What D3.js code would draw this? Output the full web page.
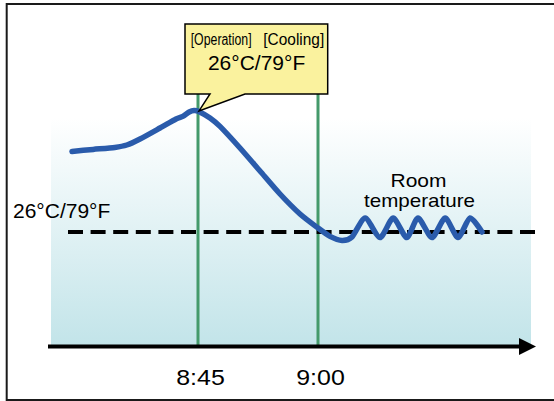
<!DOCTYPE html>
<html>
<head>
<meta charset="utf-8">
<script src="https://cdn.jsdelivr.net/npm/d3@7"></script>
<style>
  html, body { margin: 0; padding: 0; background: #fff; }
  svg { display: block; font-family: "Liberation Sans", Arial, sans-serif; }
</style>
</head>
<body>
<svg id="chart" width="554" height="401"></svg>
<script>
// ---- data (minutes after 8:00, temperature °C) ----
const minutes = [29.25, 31.9, 34.6, 36.1, 37.75, 40.25, 42.25, 43.1, 43.9, 44.5, 45.1, 46.5, 47.75, 50.25, 52.75, 55.25, 57.75, 60, 61.5, 63, 64.25, 65.9, 67.75, 69.4, 71.1, 72.5, 74.25, 75.9, 77.5, 79, 80.5];
const temps   = [30.03, 30.13, 30.23, 30.35, 30.65, 31.2, 31.65, 31.78, 32.0, 32.08, 32.03, 31.7, 31.28, 30.2, 29.05, 27.9, 26.9, 26.2, 25.78, 25.58, 25.75, 26.7, 25.72, 26.7, 25.72, 26.7, 25.72, 26.7, 25.72, 26.7, 26.0];
const tickMinutes = [45, 60];
const tickLabels = ["8:45", "9:00"];
const eventMinutes = [45, 60];            // operation start, reach set temp
const setTemp = 26;
const setTempLabel = "26°C/79°F";
const refLineMinutes = [28.75, 87.4];
const axisMinutes = [26.25, 87.25];
const tempDomain = [20, 34];
const calloutLines = ["[Operation]", "[Cooling]"];
const calloutValue = "26°C/79°F";
const seriesLabel = ["Room", "temperature"];

const toDate = m => new Date(2020, 0, 1, 8, 0, 0, Math.round(m * 60000));

const svg = d3.select("#chart");

const x = d3.scaleTime().domain(axisMinutes.map(toDate)).range([48, 536]);
const y = d3.scaleLinear().domain(tempDomain).range([352, 72]);

// gradient background
const defs = svg.append("defs");
const grad = defs.append("linearGradient").attr("id", "bg").attr("x1", 0).attr("y1", 0).attr("x2", 0).attr("y2", 1);
grad.append("stop").attr("offset", "0%").attr("stop-color", "#ffffff");
grad.append("stop").attr("offset", "100%").attr("stop-color", "#c2e4e9");

svg.append("rect").attr("x", 51).attr("y", 118).attr("width", 480).attr("height", 228).attr("fill", "url(#bg)");

// frame
svg.append("rect").attr("x", 6.7).attr("y", 4).attr("width", 600).attr("height", 396)
  .attr("fill", "none").attr("stroke", "#1a1a1a").attr("stroke-width", 2);

// green event lines
svg.selectAll(".evt").data(eventMinutes).join("line")
  .attr("x1", d => x(toDate(d))).attr("x2", d => x(toDate(d)))
  .attr("y1", 40).attr("y2", 346)
  .attr("stroke", "#449a6b").attr("stroke-width", 3);

// dashed set-temperature line
svg.append("line")
  .attr("x1", x(toDate(refLineMinutes[0]))).attr("x2", x(toDate(refLineMinutes[1])))
  .attr("y1", y(setTemp)).attr("y2", y(setTemp))
  .attr("stroke", "#000").attr("stroke-width", 4).attr("stroke-dasharray", "15,7.6");

// temperature curve
const line = d3.line().x(d => x(toDate(d[0]))).y(d => y(d[1])).curve(d3.curveCardinal.tension(0.3));
svg.append("path").datum(minutes.map((m, i) => [m, temps[i]]))
  .attr("d", line).attr("fill", "none").attr("stroke", "#2a5bab")
  .attr("stroke-width", 5.5).attr("stroke-linecap", "round").attr("stroke-linejoin", "round");

// axis line with arrow
const ax0 = x.range()[0], ax1 = x.range()[1];
svg.append("line").attr("x1", ax0).attr("x2", ax1 - 16).attr("y1", 346.5).attr("y2", 346.5)
  .attr("stroke", "#000").attr("stroke-width", 4);
svg.append("path").attr("d", `M${ax1 - 17},338 L${ax1},346.5 L${ax1 - 17},355 Z`).attr("fill", "#000");

// axis tick labels
const axis = d3.axisBottom(x).tickValues(tickMinutes.map(toDate))
  .tickFormat((d, i) => tickLabels[i]).tickSize(0);
const gAx = svg.append("g").attr("transform", "translate(2,346.5)").call(axis);
gAx.select(".domain").remove();
gAx.selectAll("text").attr("y", 38.5).attr("dy", 0)
  .attr("font-size", 22).attr("font-family", "Liberation Sans, Arial, sans-serif").attr("fill", "#000")
  .attr("textLength", 48.5).attr("lengthAdjust", "spacingAndGlyphs");

// left set-temp label
svg.append("text").attr("x", 13).attr("y", 218.3).attr("font-size", 21).attr("fill", "#000").text(setTempLabel);

// series label
svg.append("text").attr("x", 418.5).attr("y", 187.3).attr("text-anchor", "middle").attr("font-size", 19)
  .attr("textLength", 56).attr("lengthAdjust", "spacingAndGlyphs").text(seriesLabel[0]);
svg.append("text").attr("x", 419.5).attr("y", 206.7).attr("text-anchor", "middle").attr("font-size", 19)
  .attr("textLength", 111).attr("lengthAdjust", "spacingAndGlyphs").text(seriesLabel[1]);

// callout
const tipX = x(toDate(eventMinutes[0])) + 1;
const tipY = y(temps[minutes.indexOf(45.1)]) - 0.5;
svg.append("path")
  .attr("d", `M185,24 H327.7 V94 H245 L${tipX},${tipY} L210,94 H185 Z`)
  .attr("fill", "#faf29e").attr("stroke", "#000").attr("stroke-width", 1.5).attr("stroke-linejoin", "miter");
// two bracket labels, horizontally condensed to fit the box
[[calloutLines[0], 190.7, 0.77], [calloutLines[1], 263.3, 0.965]].forEach(([t, px, sx]) => {
  svg.append("text")
    .attr("transform", `translate(${px},44.5) scale(${sx},1)`)
    .attr("font-size", 16).text(t);
});
svg.append("text").attr("x", 256.6).attr("y", 70).attr("text-anchor", "middle").attr("font-size", 21)
  .text(calloutValue);
</script>
</body>
</html>
